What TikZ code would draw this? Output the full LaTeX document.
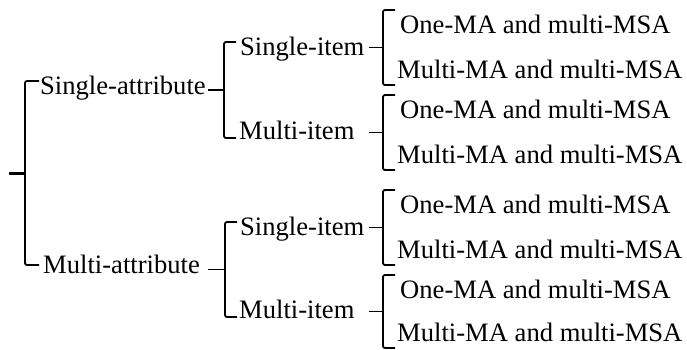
\documentclass[tikz,border=0pt]{standalone}
\usepackage{fontspec}
\setmainfont{Liberation Serif}
\newfontfamily\lblfont{Liberation Serif}
\begin{document}
\begin{tikzpicture}[x=1pt,y=-1pt,
  lbl/.style={anchor=base west,inner sep=0pt,font=\lblfont\fontsize{26.6}{30}\selectfont},
  brk/.style={line width=1.8pt,rounded corners=2pt},
  tick/.style={line width=1.8pt}]
\useasboundingbox (0,0) rectangle (687,349);

% spine x, top, bottom, hook end, tick start
\newcommand{\brkt}[6]{%
  \coordinate (#1-t) at (#2,#3);
  \coordinate (#1-b) at (#2,#4);
  \coordinate (#1-m) at (#2,{(#3+#4)/2});
  \coordinate (#1-s) at (#6,{(#3+#4)/2});
  \draw[brk] (#5,#3) -- (#1-t) -- (#1-b) -- (#5,#4);
  \draw[tick] (#1-s) -- (#1-m);}

% root
\brkt{r}{25}{81}{265}{39}{9}
\draw[line width=3pt] (r-s) -- (r-m);
\node[lbl] (sa) at (40,94) {Single-attribute};
\node[lbl] (ma) at (43,273) {Multi-attribute};

% second level
\brkt{a1}{224}{42}{138}{236}{208}
\node[lbl] (a1s) at (240,55) {Single-item};
\node[lbl] (a1m) at (239,139) {Multi-item};
\brkt{a2}{225}{222}{317}{237}{208}
\node[lbl] (a2s) at (240,235) {Single-item};
\node[lbl] (a2m) at (239,318) {Multi-item};

% third level
\brkt{c1}{383}{10}{85}{395}{369}
\node[lbl] (c1o) at (400,33) {One-MA and multi-MSA};
\node[lbl] (c1m) at (397,78) {Multi-MA and multi-MSA};
\brkt{c2}{383}{95}{170}{395}{369}
\node[lbl] (c2o) at (400,118) {One-MA and multi-MSA};
\node[lbl] (c2m) at (397,163) {Multi-MA and multi-MSA};
\brkt{c3}{383}{190}{265}{395}{369}
\node[lbl] (c3o) at (400,213) {One-MA and multi-MSA};
\node[lbl] (c3m) at (397,258) {Multi-MA and multi-MSA};
\brkt{c4}{383}{275}{348}{395}{369}
\node[lbl] (c4o) at (400,298) {One-MA and multi-MSA};
\node[lbl] (c4m) at (397,341) {Multi-MA and multi-MSA};
\end{tikzpicture}
\end{document}
